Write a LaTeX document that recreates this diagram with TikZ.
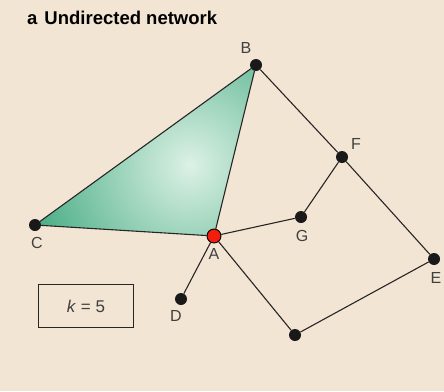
\documentclass[tikz,border=0pt]{standalone}
\usepackage{fontspec}
\setmainfont{Liberation Sans}
\definecolor{bg}{RGB}{243,229,211}
\definecolor{tri}{RGB}{66,170,128}
\definecolor{trilight}{RGB}{220,241,229}
\definecolor{nodered}{RGB}{240,30,10}
\begin{document}
\begin{tikzpicture}[x=1pt,y=-1pt,
  dot/.style={circle,fill=black!90,inner sep=0pt,minimum size=12pt},
  reddot/.style={circle,fill=nodered,draw=black,line width=0.9pt,inner sep=0pt,minimum size=14pt},
  lab/.style={font=\fontsize{16}{16}\selectfont,text=black!75},
  edge/.style={line width=1.1pt,black!85}]
\path[fill=bg,use as bounding box] (0,0) rectangle (444,391);
\node[anchor=west,font=\bfseries\fontsize{18.5}{18.5}\selectfont,inner sep=0pt] (title) at (27,18) {a\hspace{7pt}Undirected network};
\coordinate (Bp) at (256,65);
\coordinate (Ap) at (214,236);
\coordinate (Cp) at (35,225);
\begin{scope}
\clip (Bp) -- (Ap) -- (Cp) -- cycle;
\shade[inner color=trilight,outer color=tri] (190,165) circle (172);
\end{scope}
\node[dot] (B) at (256,65) {};
\node[dot] (F) at (342,157) {};
\node[dot] (G) at (301,217) {};
\node[dot] (C) at (35,225) {};
\node[dot] (E) at (434,259) {};
\node[dot] (D) at (181,299) {};
\node[dot] (H) at (295,335) {};
\node[reddot] (A) at (214,236) {};
\draw[edge] (B) -- (F);
\draw[edge] (F) -- (E);
\draw[edge] (E) -- (H);
\draw[edge] (H) -- (A);
\draw[edge] (F) -- (G);
\draw[edge] (G) -- (A);
\draw[edge] (A) -- (D);
\draw[edge] (C) -- (B);
\draw[edge] (B) -- (A);
\draw[edge] (A) -- (C);
\node[lab] (lB) at (246,48) {B};
\node[lab] (lF) at (356,144) {F};
\node[lab] (lG) at (302,236) {G};
\node[lab] (lA) at (214,254) {A};
\node[lab] (lC) at (37,243) {C};
\node[lab] (lE) at (436,278) {E};
\node[lab] (lD) at (176,316) {D};
\node[draw,line width=1.5pt,black!85,minimum width=95pt,minimum height=43pt,font=\fontsize{17}{17}\selectfont,text=black!75] (k) at (86,306) {\textit{k} = 5};
\end{tikzpicture}
\end{document}
